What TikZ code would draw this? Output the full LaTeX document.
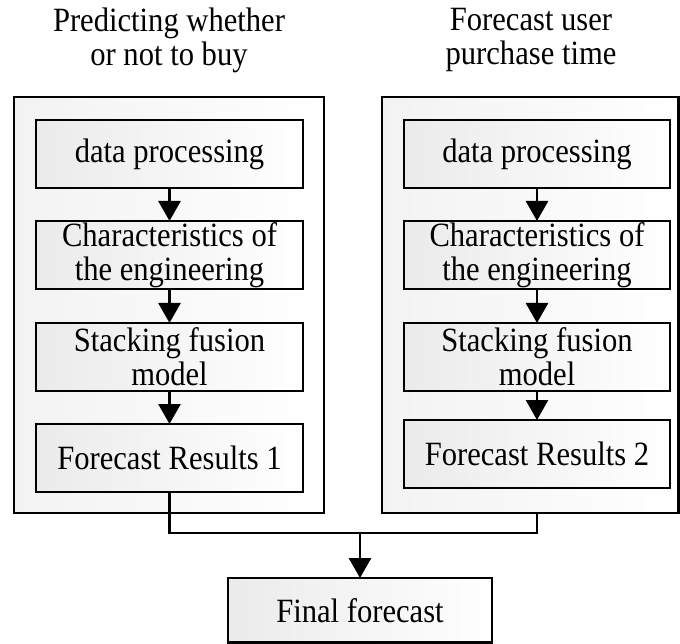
\documentclass[tikz,border=0pt]{standalone}
\usepackage{fontspec}
\setmainfont{Liberation Serif}[FakeStretch=0.9]
\usetikzlibrary{arrows.meta}
\begin{document}
\begin{tikzpicture}[x=1pt,y=-1pt,
  box/.style={draw=black,line width=2.6pt,left color=black!8,right color=white},
  outer/.style={draw=black,line width=2.6pt,left color=black!5,right color=white},
  lbl/.style={font=\fontsize{34}{34}\selectfont,align=center,inner sep=0pt},
  conn/.style={line width=2.8pt},
  arr/.style={conn,-{Triangle[length=20pt,width=22pt]}}]
\useasboundingbox (0,0) rectangle (680,644);
% titles
\node[lbl] (t1) at (169,40) {Predicting whether\\or not to buy};
\node[lbl] (t2) at (531,40) {Forecast user\\purchase time};
% outer boxes
\path[outer] (14,97) rectangle (324,513);
\path[outer] (382,97) rectangle (678.5,513);
\coordinate (L) at (169,513);
\coordinate (R) at (537,513);
% left column
\path[box] (36,120) rectangle (303,188);
\node[lbl] (a1) at (169.5,154) {data processing};
\path[box] (36,221) rectangle (303,289);
\node[lbl] (b1) at (169.5,255) {Characteristics of\\the engineering};
\path[box] (36,323) rectangle (303,391);
\node[lbl] (c1) at (169.5,357) {Stacking fusion\\model};
\path[box] (36,424) rectangle (303,492);
\node[lbl] (d1) at (169.5,458) {Forecast Results 1};
% right column
\path[box] (404,120) rectangle (670,188);
\node[lbl] (a2) at (537,154) {data processing};
\path[box] (404,221) rectangle (670,289);
\node[lbl] (b2) at (537,255) {Characteristics of\\the engineering};
\path[box] (404,323) rectangle (670,391);
\node[lbl] (c2) at (537,357) {Stacking fusion\\model};
\path[box] (404,420) rectangle (670,488);
\node[lbl] (d2) at (537,454) {Forecast Results 2};
% final
\path[box] (228,578) rectangle (492,642.7);
\node[lbl] (f) at (360,611) {Final forecast};
% arrows
\coordinate (a1b) at (169.5,188); \coordinate (b1t) at (169.5,221);
\coordinate (b1b) at (169.5,289); \coordinate (c1t) at (169.5,323);
\coordinate (c1b) at (169.5,391); \coordinate (d1t) at (169.5,424);
\coordinate (d1b) at (169.5,492);
\coordinate (a2b) at (537,188); \coordinate (b2t) at (537,221);
\coordinate (b2b) at (537,289); \coordinate (c2t) at (537,323);
\coordinate (c2b) at (537,391); \coordinate (d2t) at (537,420);
\coordinate (J) at (360,533); \coordinate (ft) at (360,578);
\draw[arr] (a1b) -- (b1t);
\draw[arr] (b1b) -- (c1t);
\draw[arr] (c1b) -- (d1t);
\draw[arr] (a2b) -- (b2t);
\draw[arr] (b2b) -- (c2t);
\draw[arr] (c2b) -- (d2t);
\draw[conn] (d1b) |- (J) -| (R);
\draw[arr] (J) -- (ft);
\end{tikzpicture}
\end{document}
